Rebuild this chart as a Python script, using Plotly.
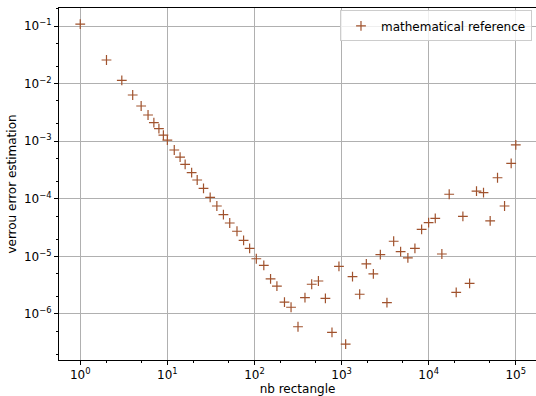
import plotly.graph_objects as go

nb_rectangle = [1, 2, 3, 4, 5, 6, 7, 8, 9, 10, 12, 14, 16, 19, 22, 26, 31, 37, 44, 52,
                63, 75, 88, 105, 128, 153, 181, 221, 263, 316, 380, 454, 542, 652,
                776, 933, 1114, 1335, 1614, 1924, 2316, 2786, 3318, 3963, 4762, 5770,
                6950, 8300, 9980, 11900, 14170, 17200, 20700, 24700, 29500, 35400,
                42600, 50800, 61700, 74300, 88500, 100000]
error_estimation = [0.108, 0.0257, 0.0114, 0.00634, 0.00408, 0.00285, 0.0021, 0.00165,
                    0.00127, 0.00104, 7.03e-4, 5.3e-4, 3.97e-4, 2.84e-4, 2.12e-4,
                    1.52e-4, 1.06e-4, 7.5e-5, 5.3e-5, 3.8e-5, 2.73e-5, 1.9e-5,
                    1.38e-5, 9.1e-6, 7.0e-6, 4.08e-6, 3.05e-6, 1.6e-6, 1.31e-6,
                    6.0e-7, 1.92e-6, 3.28e-6, 3.74e-6, 1.87e-6, 4.8e-7, 6.7e-6,
                    3.0e-7, 4.45e-6, 2.2e-6, 7.4e-6, 4.95e-6, 1.07e-5, 1.57e-6,
                    1.83e-5, 1.21e-5, 9.4e-6, 1.38e-5, 2.95e-5, 3.85e-5, 4.58e-5,
                    1.1e-5, 1.2e-4, 2.38e-6, 4.97e-5, 3.41e-6, 1.36e-4, 1.28e-4,
                    4.12e-5, 2.32e-4, 7.5e-5, 4.13e-4, 8.6e-4]

x_tickvals = [1, 10, 100, 1000, 10000, 100000]
x_ticktext = ["10<sup>0</sup>", "10<sup>1</sup>", "10<sup>2</sup>", "10<sup>3</sup>",
              "10<sup>4</sup>", "10<sup>5</sup>"]
y_tickvals = [1e-1, 1e-2, 1e-3, 1e-4, 1e-5, 1e-6]
y_ticktext = ["10<sup>−1</sup>", "10<sup>−2</sup>", "10<sup>−3</sup>", "10<sup>−4</sup>",
              "10<sup>−5</sup>", "10<sup>−6</sup>"]

color = "#a0522d"
fig = go.Figure()
fig.add_trace(go.Scatter(
    x=nb_rectangle, y=error_estimation, mode="markers",
    name="mathematical reference",
    marker=dict(symbol="cross-thin", size=7, color=color,
                line=dict(width=1.2, color=color)),
))

axis_common = dict(
    type="log", showline=True, linecolor="black", linewidth=1, mirror=True,
    ticks="outside", ticklen=4, tickcolor="black", tickwidth=1,
    showgrid=True, gridcolor="#b0b0b0", gridwidth=1, zeroline=False,
    tickfont=dict(family="DejaVu Sans", size=12, color="black"),
    minor=dict(ticks="outside", ticklen=2, tickcolor="black", showgrid=False),
)

fig.update_xaxes(**axis_common, range=[-0.244, 5.232],
                 tickvals=x_tickvals, ticktext=x_ticktext,
                 title=dict(text="nb rectangle", standoff=5,
                            font=dict(family="DejaVu Sans", size=12, color="black")))
fig.update_yaxes(**axis_common, range=[-6.799, -0.6875],
                 tickvals=y_tickvals, ticktext=y_ticktext,
                 title=dict(text="verrou error estimation", standoff=4,
                            font=dict(family="DejaVu Sans", size=12, color="black")))

fig.update_layout(
    width=536, height=396,
    margin=dict(l=59, r=0, t=8, b=36),
    plot_bgcolor="white", paper_bgcolor="white",
    font=dict(family="DejaVu Sans", size=12, color="black"),
    showlegend=True,
    legend=dict(x=0.9916, y=0.993, xanchor="right", yanchor="top",
                bgcolor="rgba(255,255,255,0.8)", bordercolor="#cccccc", borderwidth=1,
                font=dict(family="DejaVu Sans", size=12, color="black")),
)

fig.write_html("out.html")
